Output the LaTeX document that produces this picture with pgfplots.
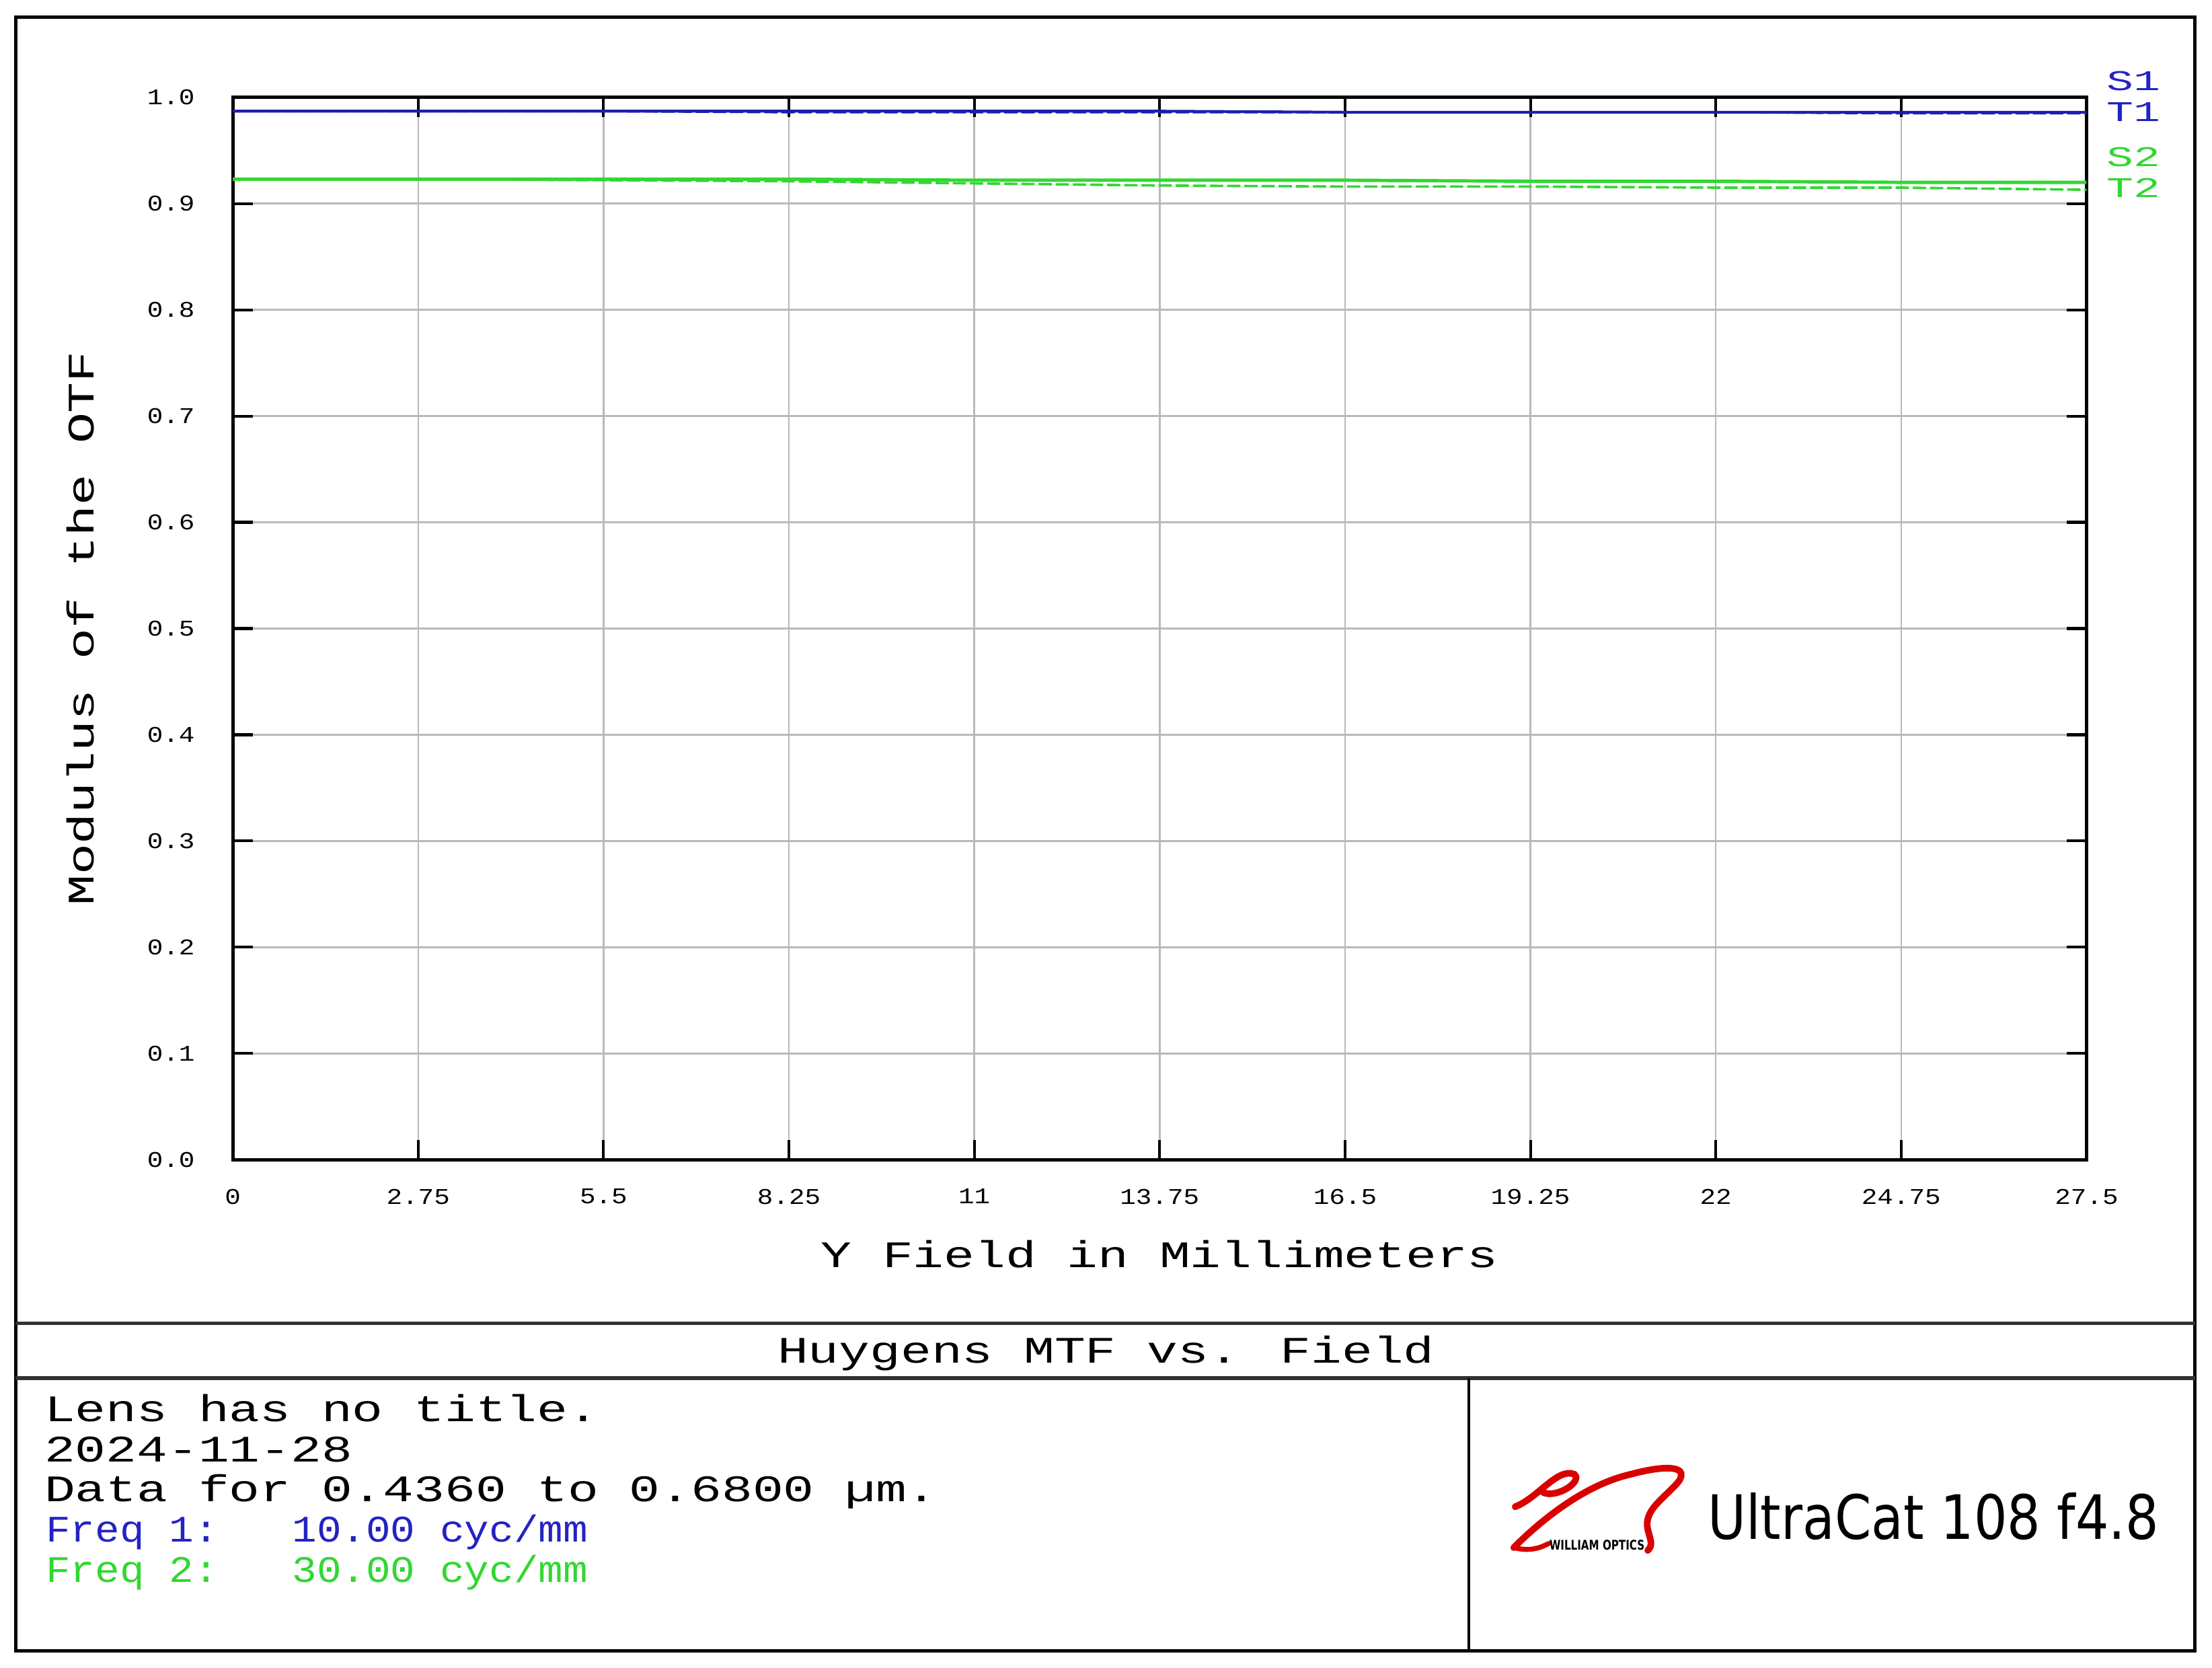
\documentclass[border=0pt]{standalone}
\usepackage{fontspec}
\setmainfont{Liberation Mono}
\newfontfamily\logofont[FakeStretch=0.8]{DejaVu Sans}
\newfontfamily\logobold[FakeStretch=0.75]{DejaVu Sans Bold}
\usepackage{pgfplots}
\pgfplotsset{compat=1.18}
\definecolor{zblue}{RGB}{35,35,195}
\definecolor{zline}{RGB}{30,30,175}
\definecolor{zgreen}{RGB}{50,215,50}
\definecolor{zgrid}{RGB}{185,185,185}
% Courier-like proportions: squash the glyphs vertically
\newcommand\sq[1]{\scalebox{1}[0.73]{#1}}
\newcommand\sqn[1]{\scalebox{0.8}[0.73]{#1}}

% field positions (mm) and MTF values
\pgfplotstableread{
x      S1     T1     S2     T2
0      0.987  0.987  0.923  0.923
2.75   0.987  0.987  0.923  0.923
5.5    0.987  0.987  0.923  0.922
8.25   0.987  0.986  0.923  0.921
11     0.987  0.986  0.922  0.919
13.75  0.987  0.986  0.922  0.917
16.5   0.986  0.986  0.922  0.916
19.25  0.986  0.986  0.921  0.916
22     0.986  0.986  0.921  0.915
24.75  0.986  0.985  0.920  0.915
27.5   0.986  0.985  0.920  0.913
}\mtfdata

\begin{document}
\begin{tikzpicture}
\begin{scope}[x=0.12755mm, y=-0.12755mm]
  \path[use as bounding box] (0,0) rectangle (1568,1182);
  % frame
  \draw[line width=0.3mm] (11,12) rectangle (1556,1170);
  \draw[line width=0.35mm, black!80] (11,938) -- (1556,938);
  \draw[line width=0.35mm, black!80] (11,977) -- (1556,977);
  \draw[line width=0.25mm] (1041,977) -- (1041,1170);
  % title and notes
  \node[anchor=base, inner sep=0pt, font=\fontsize{13.2}{15}\selectfont] at (784,966) {\sq{Huygens MTF vs. Field}};
  \begin{scope}[every node/.style={anchor=base west, inner sep=0pt, font=\fontsize{13.2}{15}\selectfont}]
    \node at (31,1007.5) {\sq{Lens has no title.}};
    \node at (31,1036) {\sq{2024-11-28}};
    \node at (31,1064.5) {\sq{Data for 0.4360 to 0.6800 µm.}};
    \node[text=zblue] at (32,1093) {\sqn{Freq 1:\ \ \ 10.00 cyc/mm}};
    \node[text=zgreen] at (32,1121.5) {\sqn{Freq 2:\ \ \ 30.00 cyc/mm}};
  \end{scope}
  % legend labels at the right of the plot
  \begin{scope}[every node/.style={anchor=base west, inner sep=0pt, font=\fontsize{11.5}{13}\selectfont}]
    \node[text=zblue] at (1493,64) {\scalebox{1}[0.64]{S1}};
    \node[text=zblue] at (1493,86) {\scalebox{1}[0.64]{T1}};
    \node[text=zgreen] at (1493,118) {\scalebox{1}[0.64]{S2}};
    \node[text=zgreen] at (1493,140) {\scalebox{1}[0.64]{T2}};
  \end{scope}
  % logo
  \begin{scope}[red!85!black, line width=0.6mm, line cap=round]
    \draw (1073,1097) .. controls (1095,1075) and (1125,1052) .. (1156,1045)
          .. controls (1178,1039) and (1198,1038) .. (1190,1050)
          .. controls (1180,1062) and (1165,1070) .. (1168,1084)
          .. controls (1170,1092) and (1172,1095) .. (1168,1099);
    \draw (1074,1068) .. controls (1090,1062) and (1104,1040) .. (1116,1045)
          .. controls (1122,1050) and (1104,1062) .. (1094,1058);
    \draw[line width=0.45mm] (1073,1097) .. controls (1085,1100) and (1092,1097) .. (1098,1094);
  \end{scope}
  \node[anchor=center, inner sep=0pt] at (1132,1095)
    {\resizebox{8.6mm}{0.9mm}{\logobold WILLIAM OPTICS}};
  \node[anchor=west, inner sep=0pt] at (1210,1075)
    {\resizebox{40.8mm}{4.2mm}{\logofont UltraCat 108 f4.8}};
\end{scope}

\begin{axis}[
    at={(21.046mm,-104.846mm)}, anchor=south west,
    scale only axis,
    width=167.60mm, height=96.045mm,
    xmin=0, xmax=27.5, ymin=0, ymax=1,
    xtick={0,2.75,5.5,8.25,11,13.75,16.5,19.25,22,24.75,27.5},
    xticklabel={\scalebox{1}[0.85]{\pgfmathprintnumber[precision=2]{\tick}}},
    ytick={0,0.1,...,1.0},
    yticklabel={\scalebox{1}[0.85]{\pgfmathprintnumber[fixed,fixed zerofill,precision=1]{\tick}}},
    /pgf/number format/assume math mode=true,
    tick label style={font=\fontsize{6.8}{8}\selectfont},
    xticklabel style={yshift=-1.4mm},
    yticklabel style={xshift=-2.2mm},
    tick align=inside,
    major tick length=1.8mm,
    tick style={black, line width=0.25mm},
    axis line style={line width=0.3mm},
    grid=major,
    major grid style={zgrid, line width=0.15mm},
    xlabel={\sq{Y Field in Millimeters}},
    ylabel={\sq{Modulus of the OTF}},
    label style={font=\fontsize{13.2}{15}\selectfont},
    xlabel style={at={(axis description cs:0.5,-0.089)}, anchor=center},
    ylabel style={at={(axis description cs:-0.082,0.5)}, anchor=center},
]
\addplot[zline, line width=0.25mm] table[x=x, y=S1] {\mtfdata};
\addplot[zline, line width=0.22mm, dash pattern=on 1.2mm off 0.35mm] table[x=x, y=T1] {\mtfdata};
\addplot[zgreen, line width=0.3mm] table[x=x, y=S2] {\mtfdata};
\addplot[zgreen, line width=0.22mm, dash pattern=on 1.2mm off 0.35mm] table[x=x, y=T2] {\mtfdata};
\end{axis}
\end{tikzpicture}
\end{document}
